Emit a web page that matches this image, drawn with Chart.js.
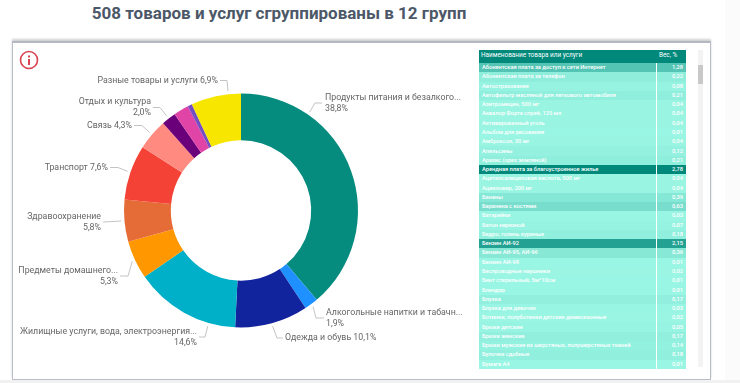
<!DOCTYPE html>
<html lang="ru">
<head>
<meta charset="utf-8">
<title>508 товаров и услуг</title>
<script src="https://cdn.jsdelivr.net/npm/chart.js@4"></script>
<style>
    html, body { margin: 0; padding: 0; background: #fff; overflow: hidden; }
    body { width: 740px; height: 383px; position: relative; font-family: Roboto, sans-serif; }
    #title { position: absolute; left: 0; top: 0; width: 558px; text-align: center; font-size: 17px; line-height: 26px; font-weight: 700; color: #4c5768; white-space: nowrap; }
    #panel { position: absolute; left: 12px; top: 41px; width: 697px; height: 336px; border: 1px solid #b9bdc9; border-top: 2px solid #b4b8c2; box-shadow: 0 -2px 2px #d0d0d0; background: #fff; }
    #bottom { position: absolute; left: 0; top: 380px; width: 740px; height: 3px; background: #f1f1f1; }
    #side { position: absolute; left: 725px; top: 0; width: 15px; height: 383px; background: #fbfbfb; }
    #chartBox { position: absolute; left: 13px; top: 42px; width: 456px; height: 337px; }
    #info { position: absolute; left: 19px; top: 50px; }
    #tableBox { position: absolute; left: 479px; top: 50px; width: 207px; }
    table { border-collapse: collapse; width: 207px; table-layout: fixed; color: #fff; font-size: 5.7px; }
    th { background: #00897b; height: 13px; padding: 0 0 3px 2px; font-weight: 400; font-size: 6.4px; text-align: left; box-sizing: border-box; }
    th:last-child { padding-left: 3px; }
    td { height: 9.27px; padding: 0 3px; line-height: 9px; white-space: nowrap; overflow: hidden; box-sizing: border-box; font-weight: 500; }
    td:last-child { text-align: right; border-left: 1px solid rgba(255,255,255,0.2); }
    #scroll { position: absolute; left: 698px; top: 50px; width: 5px; height: 317px; background: #f3f3f3; }
    #thumb { position: absolute; left: 0; top: 15px; width: 5px; height: 19px; background: #c8c8c8; }
</style>
</head>
<body>
<div id="side"></div>
<div id="bottom"></div>
<div id="title">508 товаров и услуг сгруппированы в 12 групп</div>
<div id="panel"></div>
<div id="chartBox"><canvas id="donut" width="456" height="337"></canvas></div>
<svg id="info" width="20" height="20">
    <circle cx="10" cy="10" r="8.5" fill="none" stroke="#d9434f" stroke-width="1.6"></circle>
    <rect x="9" y="9" width="2" height="6" fill="#d9434f"></rect>
    <rect x="9" y="5.5" width="2" height="2" fill="#d9434f"></rect>
</svg>
<div id="tableBox"></div>
<div id="scroll"><div id="thumb"></div></div>

<script>
// Группы товаров и услуг
const groupNames = [
    'Продукты питания и безалкого...', 'Алкогольные напитки и табачн...', 'Одежда и обувь',
    'Жилищные услуги, вода, электроэнергия...', 'Предметы домашнего...', 'Здравоохранение',
    'Транспорт', 'Связь', 'Отдых и культура', 'Образование', 'Рестораны и гостиницы', 'Разные товары и услуги'
];
const groupShares = [38.8, 1.9, 10.1, 14.6, 5.3, 5.8, 7.6, 4.3, 2.0, 2.1, 0.6, 6.9];
const groupColors = [
    '#068c7f', '#1e90ff', '#12239e', '#00b0c8', '#ff9800', '#e66c37',
    '#f44336', '#ff8a80', '#6b007b', '#e044a7', '#744ec2', '#f7e600'
];

// Таблица весов
const rowNames = [
    'Абонентская плата за доступ к сети Интернет', 'Абонентская плата за телефон', 'Автострахование',
    'Автофильтр масляной для легкового автомобиля', 'Азитромицин, 500 мг', 'Аквалор Форте спрей, 125 мл',
    'Активированный уголь', 'Альбом для рисования', 'Амброксол, 30 мг', 'Апельсины', 'Арахис (орех земляной)',
    'Арендная плата за благоустроенное жилье', 'Ацетилсалициловая кислота, 500 мг', 'Ацикловир, 200 мг',
    'Бананы', 'Баранина с костями', 'Батарейки', 'Батон нарезной', 'Бедро, голень куриные', 'Бензин АИ-92',
    'Бензин АИ-95, АИ-96', 'Бензин АИ-98', 'Беспроводные наушники', 'Бинт стерильный, 5м*10см', 'Блендер',
    'Блузка', 'Блузка для девочек', 'Ботинки, полуботинки детские демисезонные', 'Брюки детские', 'Брюки женские',
    'Брюки мужские из шерстяных, полушерстяных тканей', 'Булочки сдобные', 'Бумага А4'
];
const rowWeights = [
    1.28, 0.22, 0.08, 0.21, 0.04, 0.04, 0.04, 0.01, 0.04, 0.12, 0.21, 2.78, 0.04, 0.04, 0.39, 0.63, 0.03,
    0.07, 0.18, 2.15, 0.36, 0.01, 0.02, 0.01, 0.01, 0.17, 0.03, 0.02, 0.05, 0.17, 0.14, 0.18, 0.01
];

// Положение подписей на холсте: at - доля дуги, откуда идет выноска, elbow - излом линии,
// textX/textY - текст, null - подписи нет
const labelLayout = [
    { at: 0.25, elbow: [[302, 61], [309, 61]], textX: 312, textY: 56, align: 'left', wrap: true },
    { at: 0.5, elbow: [[303, 276], [311, 276]], textX: 313, textY: 271, align: 'left', wrap: true },
    { at: 0.5, elbow: [[264, 296], [270, 296]], textX: 272, textY: 296, align: 'left', wrap: false },
    { at: 0.25, elbow: [[192, 295], [186, 295]], textX: 184, textY: 290, align: 'right', wrap: true },
    { at: 0.5, elbow: [[115, 234], [107, 234]], textX: 105, textY: 229, align: 'right', wrap: true },
    { at: 0.5, elbow: [[90, 180]], textX: 88, textY: 175, align: 'right', wrap: true },
    { at: 0.5, elbow: [[105, 125.5], [97, 125.5]], textX: 95, textY: 126, align: 'right', wrap: false },
    { at: 0.5, elbow: [[129, 83.5], [121, 83.5]], textX: 119, textY: 84, align: 'right', wrap: false },
    { at: 0.5, elbow: [[147, 65.5], [140, 65.5]], textX: 138, textY: 60, align: 'right', wrap: true },
    null,
    null,
    { at: 0.75, elbow: [[214, 38.5], [207, 38.5]], textX: 205, textY: 39, align: 'right', wrap: false }
];

const percentText = v => v.toFixed(1).replace('.', ',') + '%';

// Подписи с линиями-выносками
const sliceLabels = {
    id: 'sliceLabels',
    afterDatasetsDraw(chart) {
        const ctx = chart.ctx;
        const arcs = chart.getDatasetMeta(0).data;
        ctx.save();
        ctx.font = '400 8.8px Roboto, sans-serif';
        ctx.textBaseline = 'middle';
        arcs.forEach((arc, i) => {
            const label = labelLayout[i];
            if (!label) return;

            // Выноска начинается у внешнего края сегмента
            const angle = arc.startAngle + (arc.endAngle - arc.startAngle) * label.at;
            ctx.beginPath();
            ctx.moveTo(arc.x + Math.cos(angle) * (arc.outerRadius + 3), arc.y + Math.sin(angle) * (arc.outerRadius + 3));
            label.elbow.forEach(p => ctx.lineTo(p[0], p[1]));
            ctx.strokeStyle = '#c4c4c4';
            ctx.lineWidth = 1;
            ctx.stroke();

            ctx.fillStyle = '#666666';
            ctx.textAlign = label.align;
            const name = groupNames[i];
            const share = percentText(groupShares[i]);
            if (label.wrap) {
                ctx.fillText(name, label.textX, label.textY);
                ctx.fillText(share, label.textX, label.textY + 11.3);
            } else {
                ctx.fillText(name + ' ' + share, label.textX, label.textY);
            }
        });
        ctx.restore();
    }
};

new Chart(document.getElementById('donut'), {
    type: 'doughnut',
    data: {
        labels: groupNames,
        datasets: [{
            data: groupShares,
            backgroundColor: groupColors,
            borderWidth: 0
        }]
    },
    options: {
        responsive: false,
        animation: false,
        radius: 117,
        cutout: '60%',
        plugins: {
            legend: { display: false },
            tooltip: { enabled: false }
        }
    },
    plugins: [sliceLabels]
});

// Цвет строки зависит от веса
function rowColor(weight) {
    const t = weight / 2.78;
    const mix = (a, b) => Math.round(a + (b - a) * t);
    return `rgb(${mix(155, 0)}, ${mix(246, 137)}, ${mix(228, 123)})`;
}

let html = '<table><colgroup><col style="width:177px"><col style="width:30px"></colgroup>';
html += '<tr><th>Наименование товара или услуги</th><th>Вес, %</th></tr>';
rowNames.forEach((name, i) => {
    const value = rowWeights[i].toFixed(2).replace('.', ',');
    html += `<tr style="background:${rowColor(rowWeights[i])}"><td>${name}</td><td>${value}</td></tr>`;
});
document.getElementById('tableBox').innerHTML = html + '</table>';
</script>
</body>
</html>
